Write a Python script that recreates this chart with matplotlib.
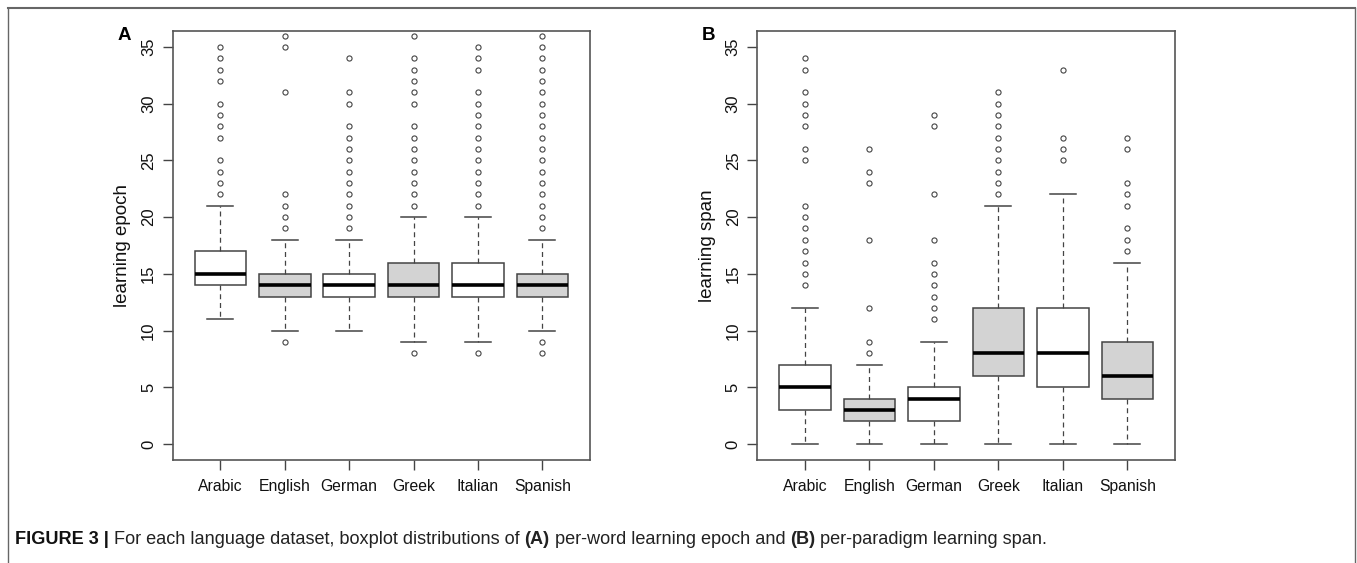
import matplotlib
matplotlib.use("Agg")
import matplotlib.pyplot as plt
from matplotlib.lines import Line2D

languages = ["Arabic", "English", "German", "Greek", "Italian", "Spanish"]

# Panel A: per-word learning epoch
epoch_whislo = [11, 10, 10, 9, 9, 10]
epoch_q1 = [14, 13, 13, 13, 13, 13]
epoch_med = [15, 14, 14, 14, 14, 14]
epoch_q3 = [17, 15, 15, 16, 16, 15]
epoch_whishi = [21, 18, 18, 20, 20, 18]
epoch_fliers = [
    [22, 23, 24, 25, 27, 28, 29, 30, 32, 33, 34, 35],
    [9, 19, 20, 21, 22, 31, 35, 36],
    [19, 20, 21, 22, 23, 24, 25, 26, 27, 28, 30, 31, 34],
    [8, 21, 22, 23, 24, 25, 26, 27, 28, 30, 31, 32, 33, 34, 36],
    [8, 21, 22, 23, 24, 25, 26, 27, 28, 29, 30, 31, 33, 34, 35],
    [8, 9, 19, 20, 21, 22, 23, 24, 25, 26, 27, 28, 29, 30, 31, 32, 33, 34, 35, 36],
]

# Panel B: per-paradigm learning span
span_whislo = [0, 0, 0, 0, 0, 0]
span_q1 = [3, 2, 2, 6, 5, 4]
span_med = [5, 3, 4, 8, 8, 6]
span_q3 = [7, 4, 5, 12, 12, 9]
span_whishi = [12, 7, 9, 21, 22, 16]
span_fliers = [
    [14, 15, 16, 17, 18, 19, 20, 21, 25, 26, 28, 29, 30, 31, 33, 34],
    [8, 9, 12, 18, 23, 24, 26],
    [11, 12, 13, 14, 15, 16, 18, 22, 28, 29],
    [22, 23, 24, 25, 26, 27, 28, 29, 30, 31],
    [25, 26, 27, 33],
    [17, 18, 19, 21, 22, 23, 26, 27],
]

y_ticks = [0, 5, 10, 15, 20, 25, 30, 35]
box_fills = ["white", "#d3d3d3", "white", "#d3d3d3", "white", "#d3d3d3"]

plt.rcParams["font.family"] = ["Liberation Sans", "DejaVu Sans"]

fig = plt.figure(figsize=(13.57, 5.63), dpi=100)

W, H = 1357, 563
def fx(px):
    return px / W
def fy(py):
    return 1 - py / H

# figure frame
frame_col = "#666666"
fig.add_artist(Line2D([fx(8), fx(1355)], [fy(8), fy(8)], color=frame_col, lw=1.5))
fig.add_artist(Line2D([fx(8), fx(8)], [fy(8), 0], color=frame_col, lw=1.0))
fig.add_artist(Line2D([fx(1355), fx(1355)], [fy(8), 0], color=frame_col, lw=1.0))

edge = "#444444"

def draw_panel(rect, whislo, q1, med, q3, whishi, fliers, ylabel, letter, letter_x):
    ax = fig.add_axes(rect)
    stats = []
    for i in range(len(languages)):
        stats.append(dict(label=languages[i], whislo=whislo[i], q1=q1[i], med=med[i],
                          q3=q3[i], whishi=whishi[i], fliers=fliers[i]))
    pos = list(range(1, len(languages) + 1))
    bp = ax.bxp(stats, positions=pos, widths=0.8, patch_artist=True,
                showfliers=True,
                boxprops=dict(edgecolor=edge, linewidth=1.1),
                medianprops=dict(color="black", linewidth=2.6, solid_capstyle="butt"),
                whiskerprops=dict(color=edge, linewidth=0.9, linestyle=(0, (4, 3))),
                capprops=dict(color=edge, linewidth=1.1),
                capwidths=0.4,
                flierprops=dict(marker="o", markersize=3.7, markerfacecolor="none",
                                markeredgecolor=edge, markeredgewidth=0.8, linestyle="none"))
    for patch, c in zip(bp["boxes"], box_fills):
        patch.set_facecolor(c)
    ax.set_xlim(0.26, 6.74)
    ax.set_ylim(-1.4, 36.4)
    ax.set_yticks(y_ticks)
    ax.set_yticklabels([str(t) for t in y_ticks], rotation=90, va="center")
    ax.set_xticks(pos)
    ax.set_xticklabels(languages)
    ax.tick_params(axis="both", length=7, width=1.0, color="#444444",
                   labelcolor="#111111")
    ax.tick_params(axis="y", pad=5, labelsize=12)
    ax.tick_params(axis="x", pad=7, labelsize=11.3)
    for s in ax.spines.values():
        s.set_color("#555555")
        s.set_linewidth(1.2)
    ax.set_ylabel(ylabel, fontsize=13.5, labelpad=7, color="#111111")
    fig.text(fx(letter_x), fy(36), letter, fontsize=13.5, fontweight="bold",
             ha="left", va="center")
    return ax

axA = draw_panel([fx(172.7), fy(460), fx(590) - fx(172.7), fy(31) - fy(460)],
                 epoch_whislo, epoch_q1, epoch_med, epoch_q3, epoch_whishi, epoch_fliers,
                 "learning epoch", "A", 118)
axB = draw_panel([fx(757.3), fy(460), fx(1175) - fx(757.3), fy(31) - fy(460)],
                 span_whislo, span_q1, span_med, span_q3, span_whishi, span_fliers,
                 "learning span", "B", 702)

cap_fs = 13.1
cap_y = fy(539)
t1 = fig.text(fx(15), cap_y, "FIGURE 3 | ", fontsize=cap_fs, fontweight="bold",
              ha="left", va="center", color="#111111")
fig.canvas.draw()
x = t1.get_window_extent().x1 / W
parts = [("For each language dataset, boxplot distributions of ", "normal"),
         ("(A)", "bold"),
         (" per-word learning epoch and ", "normal"),
         ("(B)", "bold"),
         (" per-paradigm learning span.", "normal")]
for txt, wt in parts:
    t = fig.text(x, cap_y, txt, fontsize=cap_fs, fontweight=wt,
                 ha="left", va="center", color="#222222")
    fig.canvas.draw()
    x = t.get_window_extent().x1 / W

fig.savefig("out.png", dpi=100)
